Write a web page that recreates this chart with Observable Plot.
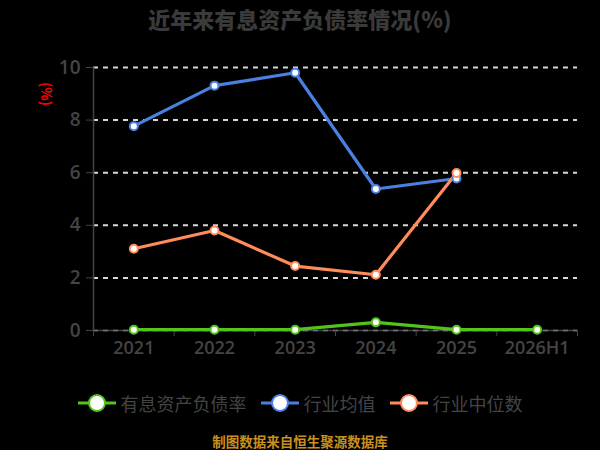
<!DOCTYPE html>
<html>
<head>
<meta charset="utf-8">
<script src="https://cdn.jsdelivr.net/npm/d3@7"></script>
<script src="https://cdn.jsdelivr.net/npm/@observablehq/plot@0.6"></script>
<style>
  html, body { margin: 0; padding: 0; background: #000; }
  #wrap { position: relative; width: 600px; height: 450px; background: #000; overflow: hidden;
          font-family: "Noto Sans CJK SC", "Noto Sans", sans-serif; }
  #title { position: absolute; left: 0; top: 3px; width: 600px; text-align: center;
           font-size: 22px; font-weight: 900; color: #3a3a3a; line-height: 30px; }
  #chart { position: absolute; left: 0; top: 38px; }
  #ylabel { position: absolute; left: 47px; top: 94px; transform: translate(-50%, -50%) rotate(90deg);
            color: #ff0000; font-size: 14px; font-weight: bold; line-height: 14px; white-space: nowrap; }
  #legend { position: absolute; left: 0; top: 390px; width: 600px; height: 26px; display: flex;
            justify-content: center; align-items: center; }
  .item { display: flex; align-items: center; margin: 0 7px; }
  .item span { font-size: 18px; color: #444; margin-left: 5px; line-height: 26px; }
  #caption { position: absolute; left: 0; top: 432px; width: 600px; text-align: center;
             font-size: 13.5px; font-weight: bold; color: #c8901e; line-height: 18px; }
</style>
</head>
<body>
<div id="wrap">
  <div id="title"></div>
  <div id="chart"></div>
  <div id="ylabel">(%)</div>
  <div id="legend"></div>
  <div id="caption"></div>
</div>
<script>
const titleText = "近年来有息资产负债率情况(%)";
const captionText = "制图数据来自恒生聚源数据库";
const yLabelText = "(%)";
const years = ["2021", "2022", "2023", "2024", "2025", "2026H1"];
const seriesNames = ["有息资产负债率", "行业均值", "行业中位数"];
const seriesColors = ["#52c41a", "#4a80e0", "#ff8c5a"];
const debtRatio = [0.03, 0.03, 0.03, 0.31, 0.03, 0.03];
const industryMean = [7.77, 9.31, 9.80, 5.38, 5.78];
const industryMedian = [3.11, 3.80, 2.45, 2.12, 5.99];
const yTicks = [0, 2, 4, 6, 8, 10];

document.getElementById("title").textContent = titleText;
document.getElementById("caption").textContent = captionText;
document.getElementById("ylabel").textContent = yLabelText;

const allSeries = [debtRatio, industryMean, industryMedian];
const rows = [];
allSeries.forEach((vals, s) => {
  vals.forEach((v, i) => rows.push({ series: seriesNames[s], idx: i, value: v }));
});

const boundaries = d3.range(years.length + 1).map(i => i - 0.5);

const plot = Plot.plot({
  width: 600,
  height: 322,
  marginTop: 29,
  marginBottom: 30,
  marginLeft: 93,
  marginRight: 23,
  style: { background: "transparent", fontFamily: "'Open Sans', 'Noto Sans', sans-serif" },
  x: { type: "linear", domain: [-0.5, years.length - 0.5] },
  y: { domain: [0, 10] },
  color: { domain: seriesNames, range: seriesColors },
  marks: [
    Plot.ruleY([0], { stroke: "#444", strokeWidth: 1.5 }),
    Plot.ruleY(yTicks, { stroke: "#d8d8d8", strokeWidth: 2, strokeDasharray: "5,5", strokeOpacity: d => d === 0 ? 0.3 : 1 }),
    Plot.ruleX([-0.5], { stroke: "#444", strokeWidth: 1.5 }),
    Plot.axisY({ ticks: yTicks, tickSize: 7, tickPadding: 6, fontSize: 19, fontWeight: 600,
                 color: "#444", stroke: "#444", label: null }),
    Plot.axisX({ ticks: boundaries, tickFormat: () => "", tickSize: 6, stroke: "#444", label: null }),
    Plot.axisX({ ticks: d3.range(years.length), tickFormat: i => years[i], tickSize: 0, tickPadding: 11,
                 fontSize: 18, fontWeight: 600, color: "#444", label: null }),
    Plot.line(rows, { x: "idx", y: "value", z: "series", stroke: "series", strokeWidth: 3.2 }),
    Plot.dot(rows, { x: "idx", y: "value", stroke: "series", fill: "#fff", r: 4, strokeWidth: 2 })
  ]
});
document.getElementById("chart").appendChild(plot);

const legend = document.getElementById("legend");
seriesNames.forEach((name, s) => {
  const item = document.createElement("div");
  item.className = "item";
  item.innerHTML = `<svg width="38" height="22"><line x1="0" x2="38" y1="11" y2="11" stroke="${seriesColors[s]}" stroke-width="3"/>` +
    `<circle cx="19" cy="11" r="8" fill="#fff" stroke="${seriesColors[s]}" stroke-width="2"/></svg><span>${name}</span>`;
  legend.appendChild(item);
});
</script>
</body>
</html>
